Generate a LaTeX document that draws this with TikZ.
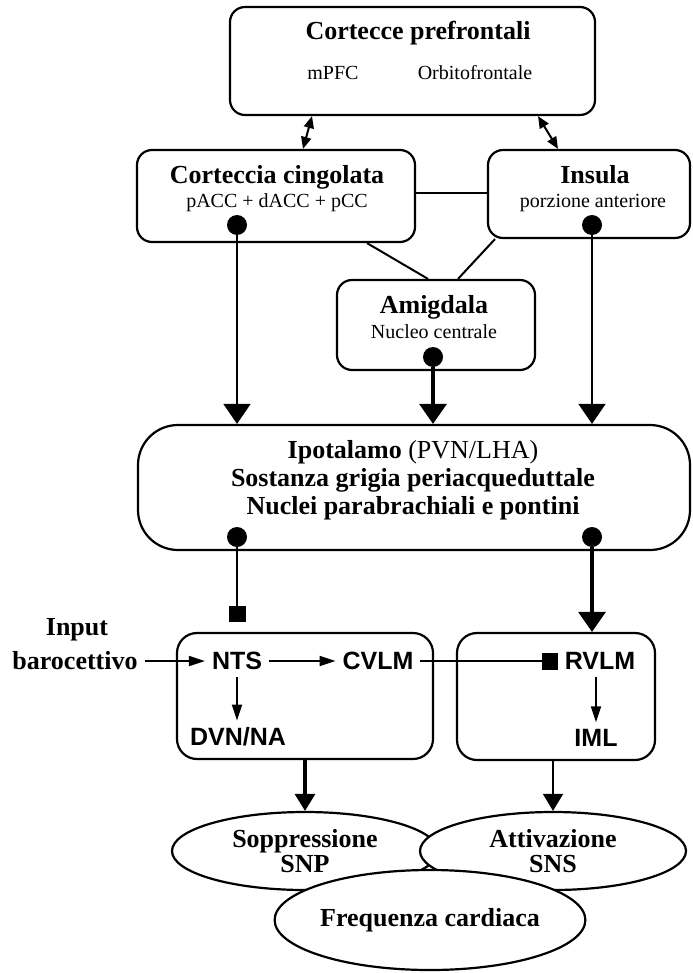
\documentclass[tikz,border=0pt]{standalone}
\usepackage{fontspec}
\setmainfont{Liberation Serif}
\setsansfont{Liberation Sans}
\usetikzlibrary{arrows.meta,shapes.geometric}
\newcommand\boxtitolo{\fontsize{13}{14}\selectfont\bfseries}
\newcommand\boxsotto{\fontsize{10}{12}\selectfont}
\newcommand\boxnucleo{\fontsize{12.5}{14}\selectfont\sffamily\bfseries}

\begin{document}
\begin{tikzpicture}[x=0.5pt,y=-0.5pt,
  box/.style={draw,line width=1.1pt,rounded corners=7.5pt,inner sep=0pt},
  titolo/.style={font=\boxtitolo},
  sotto/.style={font=\boxsotto},
  nucleo/.style={font=\boxnucleo},
  ovale/.style={draw,ellipse,line width=1.1pt,fill=white,inner sep=0pt,align=center,font=\fontsize{13}{12.5}\selectfont\bfseries},
  punto/.style={circle,fill,inner sep=0pt,minimum size=10pt},
  giu/.style={-{Triangle[width=13.5pt,length=10pt]}},
  giupiccola/.style={-{Triangle[width=10pt,length=8.5pt]}},
  freccia/.style={line width=0.9pt,-{Triangle[width=5pt,length=8pt]}},
  doppia/.style={line width=1pt,{Triangle[width=5pt,length=6pt]}-{Triangle[width=5pt,length=6pt]}},
  blocco/.style={-{Square[length=8pt,width=8.5pt]}}]
  \useasboundingbox (0,0) rectangle (692,973);

  \node[box,minimum width=182.5pt,minimum height=54pt] (pfc) at (412.5,61) {};
  \node[titolo] (pfct) at (418,33) {Cortecce prefrontali};
  \node[sotto] (mpfc) at (333,73) {mPFC};
  \node[sotto] (ofc) at (475,73) {Orbitofrontale};

  \node[box,minimum width=139pt,minimum height=46pt] (cing) at (276,196) {};
  \node[titolo] (cingt) at (277,177) {Corteccia cingolata};
  \node[sotto] (cings) at (277,203) {pACC + dACC + pCC};

  \node[box,minimum width=101pt,minimum height=44pt] (ins) at (589,194) {};
  \node[titolo] (inst) at (595,175) {Insula};
  \node[sotto] (inss) at (593,203) {porzione anteriore};

  \node[box,minimum width=99pt,minimum height=45pt] (amig) at (436,325) {};
  \node[titolo] (amigt) at (434,307) {Amigdala};
  \node[sotto] (amigs) at (434,332) {Nucleo centrale};

  \node[box,rounded corners=20pt,minimum width=276pt,minimum height=62.5pt] (ipo) at (414,487.5) {};
  \node[titolo,align=center] (ipot) at (413,480) {Ipotalamo \textmd{(PVN/LHA)}\\Sostanza grigia periacqueduttale\\Nuclei parabrachiali e pontini};

  \node[box,rounded corners=10pt,minimum width=128pt,minimum height=63pt] (bnts) at (305,696) {};
  \node[box,rounded corners=10pt,minimum width=99pt,minimum height=63.5pt] (brvlm) at (556,696.5) {};
  \node[nucleo] (nts) at (237,661) {NTS};
  \node[nucleo] (cvlm) at (378,661) {CVLM};
  \node[nucleo] (dvn) at (238,737) {DVN/NA};
  \node[nucleo] (rvlm) at (600,661) {RVLM};
  \node[nucleo] (iml) at (596,738) {IML};
  \node[titolo] (input) at (77,630) {Input};
  \node[titolo] (baro) at (75,661) {barocettivo};

  \node[ovale,minimum width=133pt,minimum height=39pt] (snp) at (305,851) {Soppressione\\SNP};
  \node[ovale,minimum width=133pt,minimum height=39pt] (sns) at (553,851) {Attivazione\\SNS};
  \node[ovale,minimum width=155pt,minimum height=50pt] (fc) at (430,920) {Frequenza cardiaca};

  \foreach \n/\x/\y in {dcing/237/225,dins/592/225,damig/433/357,dipo1/237/537,dipo2/592/537}
    \node[punto] (\n) at (\x,\y) {};

  \draw[doppia] (312,0 |- pfc.south) -- (303,0 |- cing.north);
  \draw[doppia] (538,0 |- pfc.south) -- (558,0 |- ins.north);
  \draw[line width=1pt] (cing.east |- 0,193) -- (ins.west |- 0,193);
  \draw[line width=1pt] (367,0 |- cing.south) -- (428,0 |- amig.north);
  \draw[line width=1pt] (495,0 |- ins.south) -- (458,0 |- amig.north);
  \draw[line width=0.8pt,giu] (dcing) -- (dcing |- ipo.north);
  \draw[line width=1.6pt,giu] (damig) -- (damig |- ipo.north);
  \draw[line width=0.8pt,giu] (dins) -- (dins |- ipo.north);
  \draw[line width=0.8pt,blocco,shorten >=5pt] (dipo1) -- (dipo1 |- bnts.north);
  \draw[line width=1.6pt,giu] (dipo2) -- (dipo2 |- brvlm.north);
  \draw[freccia] (baro) -- (nts);
  \draw[freccia] (nts) -- (cvlm);
  \draw[freccia] (nts) -- (nts |- dvn.north);
  \draw[freccia] (iml |- rvlm.south) -- (iml);
  \draw[line width=0.8pt,blocco] (cvlm) -- (rvlm);
  \draw[line width=1.6pt,giupiccola] (bnts.south) -- (snp.north);
  \draw[line width=0.8pt,giupiccola] (sns.north |- brvlm.south) -- (sns.north);
\end{tikzpicture}
\end{document}
